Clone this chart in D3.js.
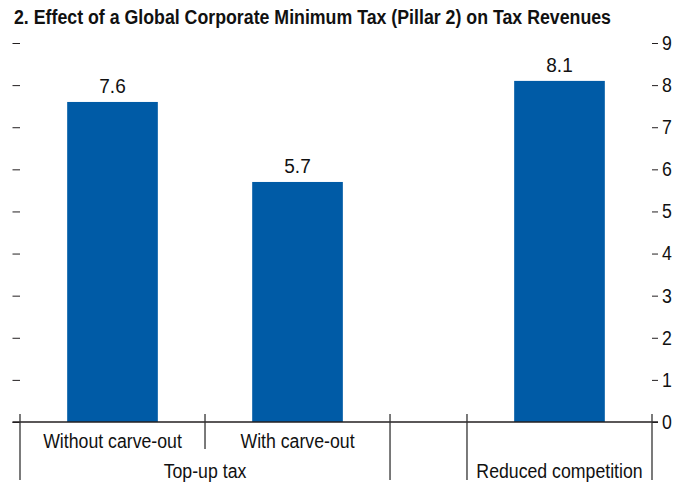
<!DOCTYPE html>
<html>
<head>
<meta charset="utf-8">
<script src="https://cdn.jsdelivr.net/npm/d3@7"></script>
<style>
  html, body { margin: 0; padding: 0; background: #fff; }
  svg text { font-family: "Liberation Sans", Arial, sans-serif; fill: #111; }
</style>
</head>
<body>
<svg id="chart" width="686" height="484"></svg>
<script>
// Chart data
const title = "2. Effect of a Global Corporate Minimum Tax (Pillar 2) on Tax Revenues";
const barLabels = ["Without carve-out", "With carve-out", ""];
const barValues = [7.6, 5.7, 8.1];
// slot (in category units) where each bar's category starts; a narrow spacer sits between the groups
const barSlots = [0, 1, 2.416];
const groupLabels = ["Top-up tax", "Reduced competition"];
const groupSpans = [[0, 2], [2.416, 3.416]];
const yTicks = [0, 1, 2, 3, 4, 5, 6, 7, 8, 9];

const svg = d3.select("#chart");
const color = "#005BA6";
const ink = "#231f20";
const fs = 20;          // label font size
const squeeze = 0.885;  // horizontal condensing of labels

// squeeze text horizontally to get a condensed face
function condense(sel, k) {
  sel.each(function () {
    const w = this.getComputedTextLength();
    d3.select(this).attr("textLength", w * k).attr("lengthAdjust", "spacingAndGlyphs");
  });
}

const x = d3.scaleLinear().domain([0, 3.416]).range([20, 652]);
const y = d3.scaleLinear().domain([0, 9]).range([422, 43]);
const barFrac = 0.49;

// title
const t = svg.append("text")
  .attr("x", 14).attr("y", 24)
  .attr("font-size", 19.5).attr("font-weight", "bold")
  .text(title);
t.attr("textLength", 597).attr("lengthAdjust", "spacingAndGlyphs");

// left axis: ticks only
const leftAxis = svg.append("g")
  .attr("transform", `translate(${x(0)},0)`)
  .call(d3.axisLeft(y).tickValues(yTicks).tickSize(7.5).tickFormat(""));
leftAxis.select(".domain").remove();
leftAxis.selectAll("line").attr("stroke", ink);

// right axis with labels
const rightAxis = svg.append("g")
  .attr("transform", `translate(${x(3.416)},0)`)
  .call(d3.axisRight(y).tickValues(yTicks).tickSize(6).tickPadding(4));
rightAxis.select(".domain").remove();
rightAxis.selectAll("line").attr("stroke", ink);
rightAxis.selectAll("text")
  .attr("font-size", fs).attr("font-family", null).attr("fill", null)
  .call(condense, squeeze);

// bars
const bars = barValues.map((v, i) => ({ v, s: barSlots[i], label: barLabels[i] }));
const bw = x(1) - x(0);
svg.selectAll("rect.bar").data(bars).enter().append("rect")
  .attr("class", "bar")
  .attr("x", d => x(d.s + 0.5) - bw * barFrac / 2)
  .attr("width", bw * barFrac)
  .attr("y", d => y(d.v))
  .attr("height", d => y(0) - y(d.v))
  .attr("fill", color);

// value labels
svg.selectAll("text.val").data(bars).enter().append("text")
  .attr("class", "val")
  .attr("x", d => x(d.s + 0.5))
  .attr("y", d => y(d.v) - 8.5)
  .attr("text-anchor", "middle")
  .attr("font-size", fs)
  .text(d => d.v.toFixed(1))
  .call(condense, 0.95);

// baseline
svg.append("line")
  .attr("x1", x(0) - 7.5).attr("x2", x(3.416) + 6)
  .attr("y1", y(0)).attr("y2", y(0))
  .attr("stroke", ink).attr("stroke-width", 1.3);

// category separators
const seps = [
  { u: 0, full: true }, { u: 1, full: false }, { u: 2, full: true },
  { u: 2.416, full: true }, { u: 3.416, full: true }
];
svg.selectAll("line.sep").data(seps).enter().append("line")
  .attr("class", "sep")
  .attr("x1", d => x(d.u)).attr("x2", d => x(d.u))
  .attr("y1", y(0) - 8)
  .attr("y2", d => d.full ? 480 : 449)
  .attr("stroke", "#333").attr("stroke-width", 1.3);

// first-level category labels
svg.selectAll("text.cat").data(bars.filter(d => d.label)).enter().append("text")
  .attr("class", "cat")
  .attr("x", d => x(d.s + 0.5))
  .attr("y", 448)
  .attr("text-anchor", "middle")
  .attr("font-size", fs)
  .text(d => d.label)
  .call(condense, squeeze);

// group labels
svg.selectAll("text.grp").data(groupLabels).enter().append("text")
  .attr("class", "grp")
  .attr("x", (d, i) => x((groupSpans[i][0] + groupSpans[i][1]) / 2))
  .attr("y", 478)
  .attr("text-anchor", "middle")
  .attr("font-size", fs)
  .text(d => d)
  .call(condense, squeeze);
</script>
</body>
</html>
